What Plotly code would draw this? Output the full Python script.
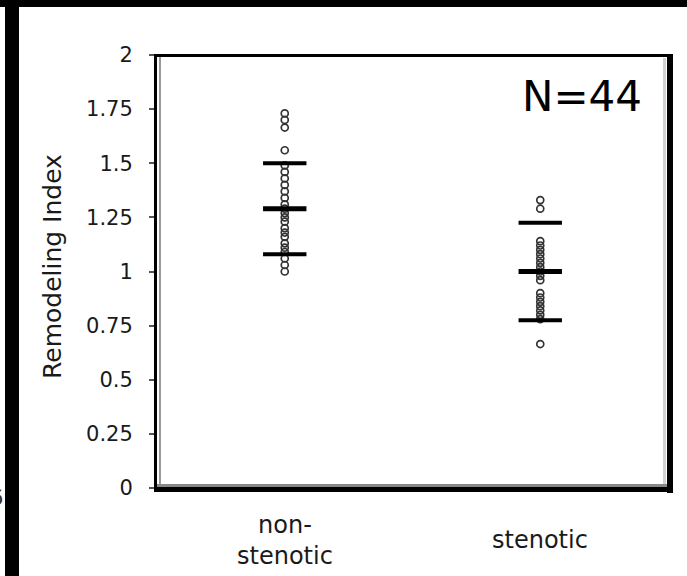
import plotly.graph_objects as go

# ---- data ----
categories = ["non-stenotic", "stenotic"]
category_labels = ["non-<br>stenotic", "stenotic"]
nonstenotic_values = [1.73, 1.70, 1.665, 1.56, 1.49, 1.46, 1.43, 1.40, 1.37, 1.34, 1.31, 1.29,
                      1.27, 1.25, 1.23, 1.20, 1.18, 1.16, 1.13, 1.11, 1.09, 1.06, 1.03, 1.00]
stenotic_values = [1.33, 1.29, 1.14, 1.12, 1.10, 1.08, 1.06, 1.04, 1.02, 1.00, 0.98, 0.96,
                   0.90, 0.88, 0.86, 0.84, 0.82, 0.80, 0.78, 0.665]
group_means = [1.29, 1.0]
group_sds = [0.21, 0.225]
y_tickvals = [0, 0.25, 0.5, 0.75, 1, 1.25, 1.5, 1.75, 2]
y_ticktext = ["0", "0.25", "0.5", "0.75", "1", "1.25", "1.5", "1.75", "2"]
n_label = "N=44"
y_title = "Remodeling Index"

W, H = 687, 576
L, R, T, B = 157, 19, 55, 88
PW, PH = W - L - R, H - T - B


def px_x(px):
    return (px - L) / PW


def px_y(py):
    return (H - B - py) / PH


FONT = "DejaVu Sans"
fig = go.Figure()

for cat, vals in zip(categories, [nonstenotic_values, stenotic_values]):
    fig.add_trace(go.Scatter(
        x=[cat] * len(vals), y=vals, mode="markers",
        marker=dict(symbol="circle-open", size=7, color="#333333",
                    line=dict(width=1.7, color="#333333")),
        showlegend=False, hoverinfo="y"))

upper = [m + s for m, s in zip(group_means, group_sds)]
lower = [m - s for m, s in zip(group_means, group_sds)]
for ys, w in [(upper, 4), (group_means, 5), (lower, 4)]:
    fig.add_trace(go.Scatter(
        x=categories, y=ys, mode="markers",
        marker=dict(symbol="line-ew", size=31, color="black",
                    line=dict(width=w, color="black")),
        showlegend=False, hoverinfo="y"))

shapes = []


def rect(x0, y0, x1, y1, color):
    shapes.append(dict(type="rect", xref="paper", yref="paper",
                       x0=px_x(x0), x1=px_x(x1), y0=px_y(y0), y1=px_y(y1),
                       fillcolor=color, line=dict(width=0), layer="above"))


# plot frame
rect(154, 54, 673, 57, "black")
rect(154, 54, 157, 492, "black")
rect(159, 57, 161, 487, "#9a9a9a")
rect(663, 58, 666, 487, "#d0d0d0")
rect(667, 54, 673, 493, "black")
rect(157, 484, 667, 487, "#888888")
rect(154, 487, 673, 492, "black")
# outer black bands of the image
rect(0, 0, W, 7, "black")
rect(5, 0, 19, H, "black")

annotations = [
    dict(text=n_label, x=px_x(582), y=px_y(97), xref="paper", yref="paper",
         xanchor="center", yanchor="middle",
         showarrow=False, font=dict(family=FONT, size=42, color="black")),
    dict(text=y_title, x=px_x(52), y=px_y(267), xref="paper", yref="paper",
         xanchor="center", yanchor="middle",
         textangle=-90, showarrow=False, font=dict(family=FONT, size=25, color="#1a1a1a")),
    dict(text="6", x=px_x(5), y=px_y(498), xref="paper", yref="paper", xanchor="right",
         yanchor="middle",
         showarrow=False, font=dict(family=FONT, size=21, color="#333333")),
]
for cat, lab in zip(categories, category_labels):
    annotations.append(dict(text=lab, x=cat, xref="x", y=px_y(540), yref="paper",
                            xanchor="center", yanchor="middle", showarrow=False,
                            font=dict(family=FONT, size=24, color="#1a1a1a")))

fig.update_layout(
    width=W, height=H,
    margin=dict(l=L, r=R, t=T, b=B, pad=0),
    paper_bgcolor="white", plot_bgcolor="white",
    xaxis=dict(type="category", categoryorder="array", categoryarray=categories,
               range=[-0.5, 1.5], showticklabels=False, ticks="", showgrid=False,
               zeroline=False, showline=False),
    yaxis=dict(range=[0, 2], tickvals=y_tickvals, ticktext=y_ticktext,
               ticks="outside", ticklen=7, tickwidth=2, tickcolor="#555555",
               ticklabelstandoff=12,
               showgrid=False, zeroline=False, showline=False,
               tickfont=dict(family=FONT, size=21, color="#1a1a1a")),
    shapes=shapes, annotations=annotations,
)

fig.write_html("out.html", config={"displayModeBar": False},
               post_script="document.body.style.margin='0';document.body.style.overflow='hidden';")
